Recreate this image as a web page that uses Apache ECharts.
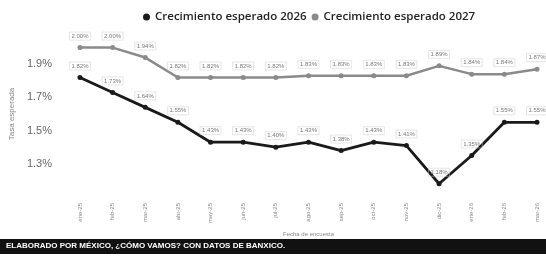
<!DOCTYPE html>
<html>
<head>
<meta charset="utf-8">
<script src="https://cdn.jsdelivr.net/npm/echarts@6/dist/echarts.min.js"></script>
<style>
  html, body { margin: 0; padding: 0; background: #fff; }
  #chart { width: 546px; height: 260px; }
</style>
</head>
<body>
<div id="chart"></div>
<script>
// fechas de encuesta
const categories = ['ene-25', 'feb-25', 'mar-25', 'abr-25', 'may-25', 'jun-25', 'jul-25', 'ago-25',
  'sep-25', 'oct-25', 'nov-25', 'dic-25', 'ene-26', 'feb-26', 'mar-26'];
const growth2026 = [1.82, 1.73, 1.64, 1.55, 1.43, 1.43, 1.40, 1.43, 1.38, 1.43, 1.41, 1.18, 1.35, 1.55, 1.55];
const growth2027 = [2.00, 2.00, 1.94, 1.82, 1.82, 1.82, 1.82, 1.83, 1.83, 1.83, 1.83, 1.89, 1.84, 1.84, 1.87];
const yTicks = [1.1, 1.3, 1.5, 1.7, 1.9, 2.1];

const chart = echarts.init(document.getElementById('chart'));

const labelStyle = {
  show: true,
  position: 'top',
  distance: 5,
  fontSize: 6,
  color: '#777',
  borderColor: '#ccc',
  borderWidth: 0.5,
  padding: [1, 2],
  formatter: p => p.value.toFixed(2) + '%'
};

chart.setOption({
  backgroundColor: '#fff',
  animation: false,
  legend: {
    top: 6,
    left: 138,
    itemWidth: 7,
    itemHeight: 7,
    itemGap: 5,
    icon: 'circle',
    textStyle: { fontSize: 11.5, color: '#222', fontFamily: 'Open Sans', fontWeight: 600 },
    data: ['Crecimiento esperado 2026', 'Crecimiento esperado 2027']
  },
  grid: { left: 71, right: 9, top: 31, height: 166, containLabel: false },
  xAxis: {
    type: 'category',
    data: categories,
    boundaryGap: false,
    name: 'Fecha de encuesta',
    nameLocation: 'middle',
    nameGap: 26,
    nameTextStyle: { fontSize: 6, color: '#888' },
    axisLine: { show: false },
    axisTick: { show: false },
    axisLabel: { rotate: 90, fontSize: 6, color: '#888', margin: 6 }
  },
  yAxis: {
    type: 'value',
    min: yTicks[0],
    max: yTicks[yTicks.length - 1],
    interval: 0.2,
    name: 'Tasa esperada',
    nameLocation: 'middle',
    nameGap: 56,
    nameTextStyle: { fontSize: 8, color: '#888' },
    splitLine: { show: false },
    axisLine: { show: false },
    axisTick: { show: false },
    axisLabel: {
      fontSize: 11,
      color: '#666',
      margin: 28,
      showMinLabel: false,
      showMaxLabel: false,
      formatter: v => v.toFixed(1) + '%'
    }
  },
  series: [
    {
      name: 'Crecimiento esperado 2026',
      type: 'line',
      data: growth2026,
      color: '#1a1a1a',
      symbol: 'circle',
      symbolSize: 5,
      lineStyle: { width: 2.8, color: '#1a1a1a' },
      label: labelStyle
    },
    {
      name: 'Crecimiento esperado 2027',
      type: 'line',
      data: growth2027,
      color: '#8a8a8a',
      symbol: 'circle',
      symbolSize: 5,
      lineStyle: { width: 2.5, color: '#8a8a8a' },
      label: labelStyle
    }
  ],
  graphic: [
    {
      type: 'rect',
      left: 0,
      top: 239,
      shape: { width: 546, height: 15 },
      style: { fill: '#111' }
    },
    {
      type: 'text',
      left: 6,
      top: 242,
      style: {
        text: 'ELABORADO POR MÉXICO, ¿CÓMO VAMOS? CON DATOS DE BANXICO.',
        fill: '#fff',
        font: 'bold 8px "Liberation Sans Narrow", "Liberation Sans", sans-serif'
      }
    }
  ]
});
</script>
</body>
</html>
